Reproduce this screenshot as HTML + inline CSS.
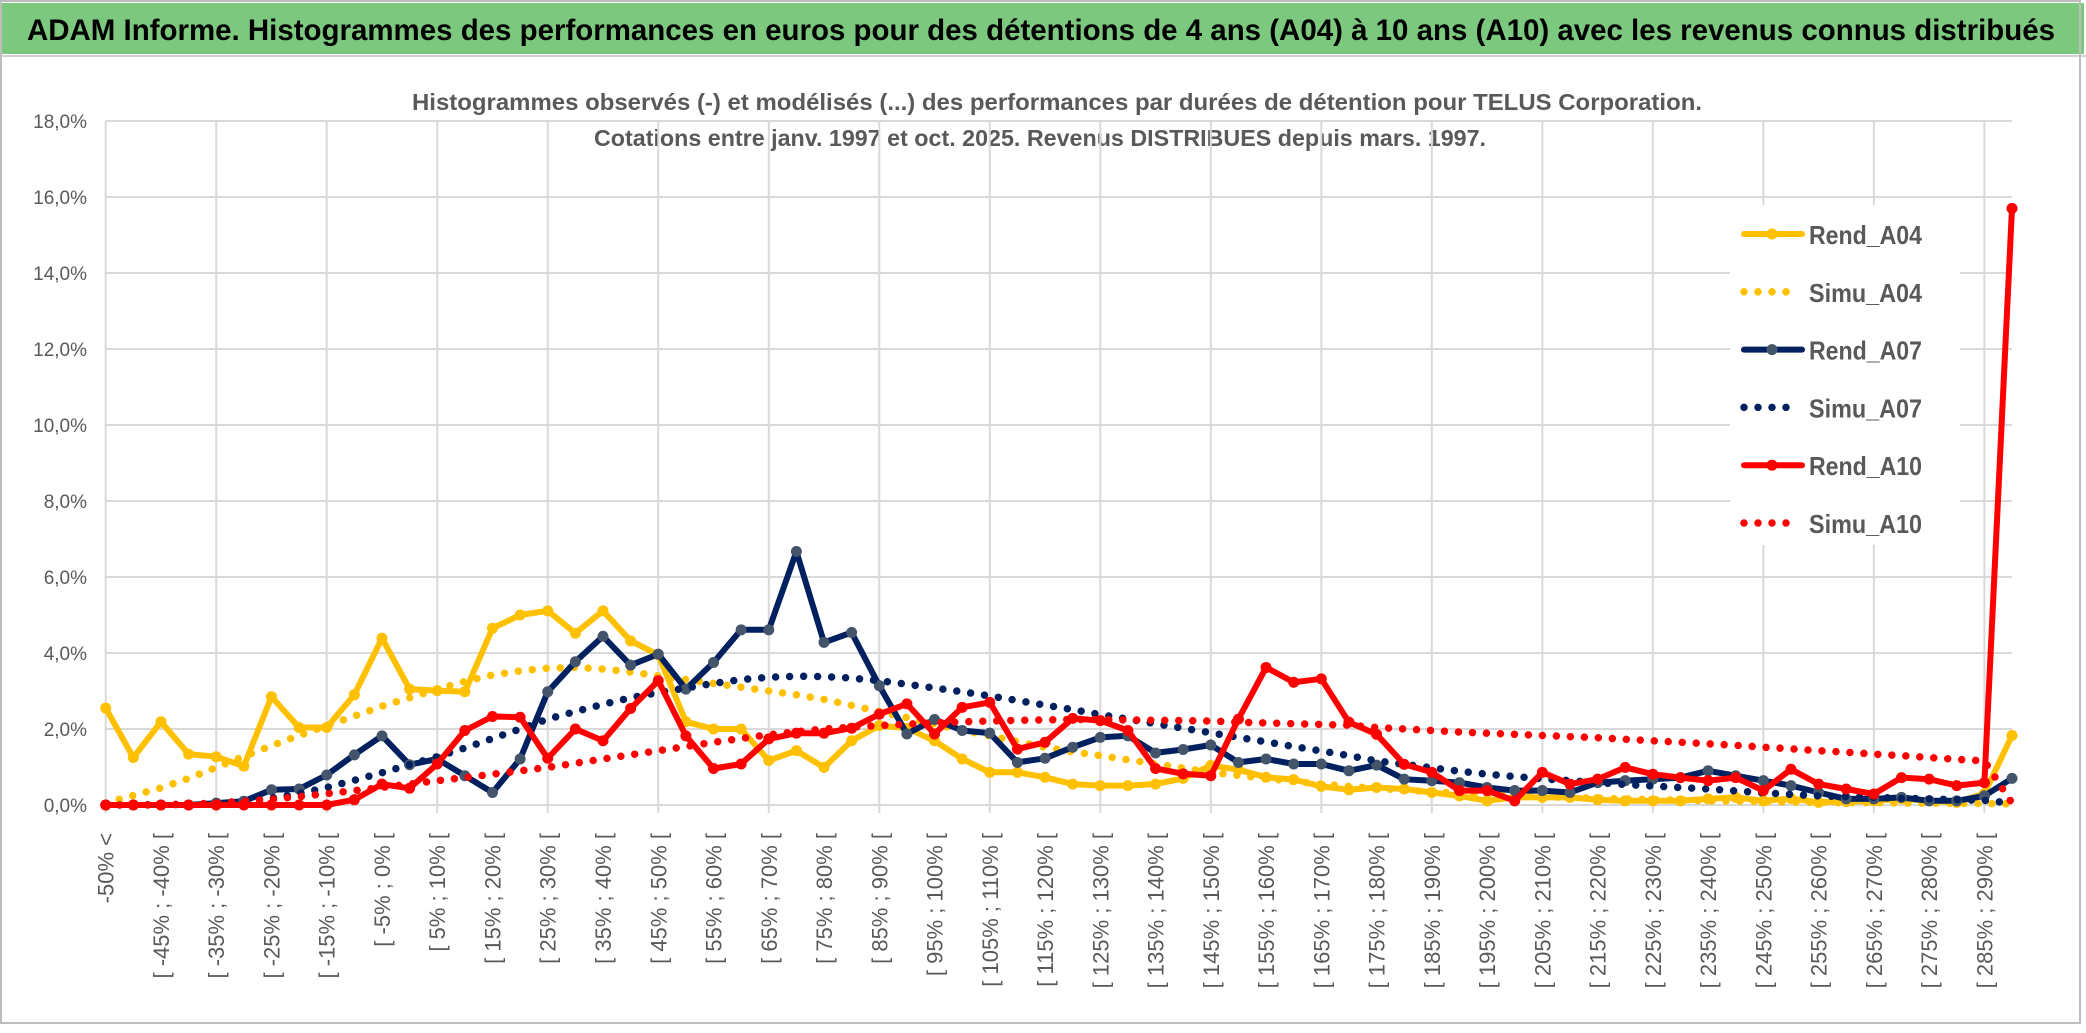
<!DOCTYPE html>
<html><head><meta charset="utf-8"><style>
html,body{margin:0;padding:0;background:#fff;}
svg{display:block;font-family:"Liberation Sans Narrow","Liberation Sans",sans-serif;}
</style></head><body>
<svg id="chart" width="2086" height="1033" viewBox="0 0 2086 1033" xmlns="http://www.w3.org/2000/svg">
<rect x="0" y="0" width="2086" height="1033" fill="#fff"/>
<rect x="2" y="3" width="2082" height="51" fill="#7DC87F"/>
<line x1="0" y1="56" x2="2086" y2="56" stroke="#d0d0d0" stroke-width="2"/>
<rect x="1" y="1" width="2079" height="1022" fill="none" stroke="#bdbdbd" stroke-width="2"/>
<text x="27" y="40" font-size="30" font-weight="bold" fill="#000" textLength="2028" lengthAdjust="spacingAndGlyphs">ADAM Informe. Histogrammes des performances en euros pour des détentions de 4 ans (A04) à 10 ans (A10) avec les revenus connus distribués</text>
<text x="412" y="110" font-size="23" font-weight="bold" fill="#595959" textLength="1290" lengthAdjust="spacingAndGlyphs">Histogrammes observés (-) et modélisés (...) des performances par durées de détention pour TELUS Corporation.</text>
<text x="594" y="146" font-size="23" font-weight="bold" fill="#595959" textLength="892" lengthAdjust="spacingAndGlyphs">Cotations entre janv. 1997 et oct. 2025. Revenus DISTRIBUES depuis mars. 1997.</text>
<g id="grid"></g>
<g id="series"></g>
<g id="xlabels"></g>
<g id="legend"></g>
</svg>
<script>
const categoryCount = 70;
const yTicks = [0,2,4,6,8,10,12,14,16,18];
const rendA04 = [2.55,1.25,2.19,1.34,1.27,1.02,2.85,2.04,2.04,2.9,4.39,3.05,3.01,2.98,4.65,5.0,5.11,4.52,5.11,4.32,3.95,2.19,2.0,2.0,1.17,1.43,0.99,1.69,2.09,2.02,1.69,1.21,0.86,0.86,0.73,0.55,0.51,0.51,0.55,0.7,1.04,0.93,0.73,0.67,0.49,0.4,0.46,0.42,0.33,0.24,0.11,0.2,0.2,0.2,0.14,0.11,0.11,0.11,0.16,0.2,0.11,0.17,0.07,0.09,0.11,0.16,0.11,0.07,0.3,1.83];
const simuA04 = [0.05,0.25,0.45,0.7,0.99,1.28,1.56,1.83,2.09,2.34,2.6,2.82,3.05,3.25,3.42,3.53,3.6,3.62,3.58,3.5,3.4,3.3,3.2,3.1,3.0,2.9,2.78,2.62,2.46,2.3,2.13,1.97,1.82,1.67,1.52,1.4,1.3,1.19,1.08,0.97,0.86,0.78,0.7,0.62,0.55,0.49,0.44,0.39,0.35,0.31,0.28,0.25,0.22,0.2,0.18,0.16,0.14,0.13,0.11,0.1,0.09,0.08,0.07,0.06,0.06,0.05,0.05,0.04,0.04,0.03];
const rendA07 = [0,0,0,0,0.05,0.1,0.4,0.42,0.79,1.32,1.82,1.06,1.21,0.77,0.33,1.21,2.98,3.77,4.44,3.68,3.97,3.05,3.75,4.61,4.61,6.67,4.28,4.54,3.14,1.87,2.25,1.96,1.89,1.12,1.23,1.52,1.78,1.82,1.37,1.46,1.58,1.12,1.21,1.08,1.08,0.9,1.05,0.68,0.64,0.59,0.46,0.38,0.38,0.33,0.59,0.64,0.68,0.72,0.9,0.77,0.64,0.51,0.33,0.16,0.16,0.2,0.11,0.11,0.24,0.7];
const simuA07 = [0,0,0.01,0.02,0.05,0.1,0.18,0.3,0.46,0.65,0.85,1.06,1.27,1.5,1.75,2.0,2.26,2.46,2.65,2.82,2.96,3.08,3.2,3.3,3.36,3.39,3.38,3.34,3.27,3.18,3.08,2.98,2.87,2.75,2.63,2.51,2.38,2.26,2.14,2.02,1.9,1.78,1.66,1.54,1.42,1.3,1.16,1.07,0.98,0.89,0.81,0.75,0.69,0.64,0.59,0.54,0.5,0.46,0.42,0.37,0.32,0.28,0.24,0.22,0.2,0.18,0.16,0.14,0.12,0.05];
const rendA10 = [0,0,0,0,0,0,0,0,0,0.14,0.55,0.44,1.08,1.96,2.33,2.31,1.23,2.0,1.69,2.54,3.27,1.82,0.96,1.08,1.74,1.89,1.89,2.02,2.39,2.66,1.87,2.57,2.7,1.47,1.65,2.28,2.22,1.96,0.96,0.82,0.77,2.26,3.62,3.23,3.32,2.18,1.86,1.07,0.86,0.38,0.38,0.11,0.86,0.55,0.68,0.99,0.81,0.72,0.64,0.72,0.38,0.94,0.55,0.42,0.29,0.72,0.68,0.51,0.59,15.7];
const simuA10 = [0,0,0,0.02,0.05,0.1,0.15,0.22,0.3,0.38,0.46,0.55,0.64,0.72,0.81,0.9,0.99,1.1,1.21,1.32,1.43,1.54,1.65,1.75,1.85,1.93,2.0,2.05,2.09,2.13,2.16,2.19,2.21,2.23,2.24,2.25,2.25,2.24,2.23,2.22,2.21,2.18,2.16,2.14,2.12,2.1,2.04,2.0,1.96,1.92,1.89,1.86,1.83,1.8,1.77,1.73,1.69,1.65,1.61,1.57,1.52,1.48,1.43,1.39,1.34,1.3,1.25,1.2,1.16,0.05];

const NS = "http://www.w3.org/2000/svg";
const X0 = 105.7, X1 = 2012, Y0 = 805, PX_PER_PCT = 38;
function xPos(i){ return X0 + (X1 - X0) * i / (categoryCount - 1); }
function yPos(v){ return Y0 - v * PX_PER_PCT; }
function mk(tag, attrs, parent){ const e = document.createElementNS(NS, tag); for (const k in attrs) e.setAttribute(k, attrs[k]); parent.appendChild(e); return e; }
function catLabel(i){ if (i === 0) return "-50% <"; const a = -55 + 5*i, b = -50 + 5*i; return "[ " + a + "% ; " + b + "% ["; }

const grid = document.getElementById('grid');
yTicks.forEach(t => {
  const y = yPos(t);
  const gl = mk('line', {x1: X0, y1: y, x2: X1, y2: y, stroke: '#d9d9d9', 'stroke-width': 2}, grid);
  
  
  const tl = mk('text', {x: 87, y: y + 7, 'text-anchor': 'end', 'font-size': 19, fill: '#595959'}, grid);
  tl.textContent = t.toFixed(1).replace('.', ',') + '%';
  
  
});
for (let i = 0; i < categoryCount; i += 4) {
  const x = xPos(i);
  const vl = mk('line', {x1: x, y1: yPos(18), x2: x, y2: Y0 + 8, stroke: '#d9d9d9', 'stroke-width': 2}, grid);
  
  
}

const xl = document.getElementById('xlabels');
for (let i = 0; i < categoryCount; i += 2) {
  const x = xPos(i);
  const t = mk('text', {x: 0, y: 0, 'text-anchor': 'end', 'font-size': 22, fill: '#595959', transform: 'translate(' + (x + 8) + ',833) rotate(-90)'}, xl);
  t.textContent = catLabel(i);
  
  
}

const sg = document.getElementById('series');
function pts(arr){ return arr.map((v, i) => xPos(i).toFixed(1) + ',' + yPos(v).toFixed(1)).join(' '); }
function solid(arr, color, mcolor, name){
  const g = mk('g', {}, sg);
  
  
  mk('polyline', {points: pts(arr), fill: 'none', stroke: color, 'stroke-width': 6, 'stroke-linejoin': 'round'}, g);
  arr.forEach((v, i) => {
    const c = mk('circle', {cx: xPos(i), cy: yPos(v), r: 5.5, fill: mcolor}, g);
    
    
  });
}
function dotted(arr, color, name){
  const p = mk('polyline', {points: pts(arr), fill: 'none', stroke: color, 'stroke-width': 7.5, 'stroke-linecap': 'round', 'stroke-dasharray': '0 14'}, sg);
  
  
}
solid(rendA04, '#FFC000', '#FFC000', 'rend-a04-line');
dotted(simuA04, '#FFC000', 'simu-a04-line');
solid(rendA07, '#002060', '#44546A', 'rend-a07-line');
dotted(simuA07, '#002060', 'simu-a07-line');
solid(rendA10, '#FF0000', '#FF0000', 'rend-a10-line');
dotted(simuA10, '#FF0000', 'simu-a10-line');

const lg = document.getElementById('legend');
mk('rect', {x: 1730, y: 205, width: 230, height: 340, fill: '#fff'}, lg);
const legendNames = ['Rend_A04','Simu_A04','Rend_A07','Simu_A07','Rend_A10','Simu_A10'];
const legendColors = ['#FFC000','#FFC000','#002060','#002060','#FF0000','#FF0000'];
const legendMarks = ['#FFC000',null,'#44546A',null,'#FF0000',null];
legendNames.forEach((n, k) => {
  const y = 234 + k * 57.8;
  const g = mk('g', {}, lg);
  
  
  if (legendMarks[k]) {
    mk('line', {x1: 1744, y1: y, x2: 1802, y2: y, stroke: legendColors[k], 'stroke-width': 6, 'stroke-linecap': 'round'}, g);
    mk('circle', {cx: 1772, cy: y, r: 5.5, fill: legendMarks[k]}, g);
  } else {
    mk('line', {x1: 1744, y1: y, x2: (k === 5 ? 1800 : 1790), y2: y, stroke: legendColors[k], 'stroke-width': 7.5, 'stroke-linecap': 'round', 'stroke-dasharray': '0 14'}, g);
  }
  const t = mk('text', {x: 1809, y: y + 10, 'font-size': 26, 'font-weight': 'bold', fill: '#595959', textLength: 113, lengthAdjust: 'spacingAndGlyphs'}, g);
  t.textContent = n;
});
</script>
</body></html>
